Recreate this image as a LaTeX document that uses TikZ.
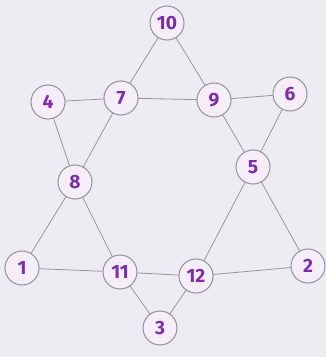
\documentclass[tikz,border=0pt]{standalone}
\usepackage{fontspec}
\setsansfont{Fira Sans}
\definecolor{paper}{RGB}{236,236,242}
\definecolor{ink}{RGB}{125,45,170}
\definecolor{pencil}{RGB}{150,150,155}
\tikzset{
  num/.style={circle, draw=pencil, thick, fill=ink!8, minimum size=34*0.75pt,
    inner sep=0pt, text=ink, font=\sffamily\bfseries\Large},
  edge/.style={pencil, semithick}
}
\begin{document}
\begin{tikzpicture}[x=0.75pt, y=-0.75pt, line join=round, line cap=round]

  % Nền giấy
  \fill[paper] (0,0) rectangle (326,357);
  \useasboundingbox (0,0) rectangle (326,357);

  % Các đỉnh
  \foreach \n/\x/\y in {10/167/23, 4/48/102, 7/121/98, 9/214/100, 6/290/94,
                        8/75/182, 5/253/167, 1/22/268, 11/120/272,
                        12/196/276, 2/308/266, 3/160/328}
  {
    \node[num] (v\n) at (\x,\y) {\n};
  }

  % Tam giác hướng lên
  \draw[edge] (v10)--(v7) (v7)--(v8) (v8)--(v1) (v1)--(v11) (v11)--(v12)
              (v12)--(v2) (v2)--(v5) (v5)--(v9) (v9)--(v10);

  % Tam giác hướng xuống
  \draw[edge] (v4)--(v7) (v7)--(v9) (v9)--(v6) (v6)--(v5) (v5)--(v12)
              (v12)--(v3) (v3)--(v11) (v11)--(v8) (v8)--(v4);

\end{tikzpicture}
\end{document}
